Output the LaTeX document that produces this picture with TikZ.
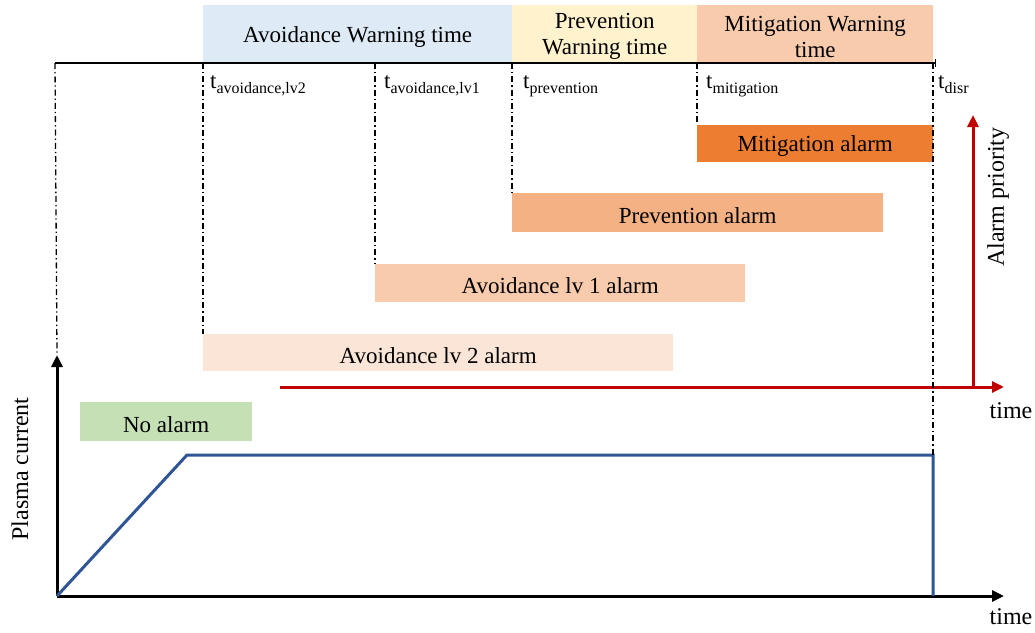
\documentclass[tikz,border=0pt]{standalone}
\usepackage{fontspec}
\setmainfont{Liberation Serif}
\usetikzlibrary{arrows.meta}
\definecolor{wblue}{HTML}{DEEBF7}
\definecolor{wyel}{HTML}{FFF2CC}
\definecolor{wpeach}{HTML}{F8CBAD}
\definecolor{malarm}{HTML}{ED7D31}
\definecolor{palarm}{HTML}{F4B183}
\definecolor{aonealarm}{HTML}{F8CBAD}
\definecolor{atwoalarm}{HTML}{FBE5D6}
\definecolor{nalarm}{HTML}{C5E0B4}
\definecolor{redax}{HTML}{C00000}
\definecolor{curveblue}{HTML}{2F5597}
\tikzset{
  bar/.style={inner sep=0pt, anchor=north west},
  bartxt/.style={inner sep=0pt, yshift=-2.5pt, font=\fontsize{23}{26}\selectfont, align=center},
  dd/.style={line width=1.3pt, dash pattern=on 6pt off 3pt on 1.3pt off 3pt},
  tlab/.style={anchor=base west, inner sep=0pt, font=\fontsize{23}{24}\selectfont},
  axlab/.style={inner sep=0pt, font=\fontsize{24}{26}\selectfont},
  blackax/.style={line width=3pt, -{Triangle[length=12pt,width=11pt]}},
  redaxis/.style={line width=3pt, redax, -{Triangle[length=12pt,width=11pt]}},
}
\newcommand{\tsub}[1]{t\raisebox{-5pt}{\fontsize{16}{16}\selectfont #1}}
\begin{document}
\begin{tikzpicture}[x=1pt,y=-1pt]
\useasboundingbox (0,0) rectangle (1035,632);
% warning time boxes
\node[bar, fill=wblue, minimum width=309pt, minimum height=58pt,
  label={[bartxt]center:Avoidance Warning time}] (avw) at (203,5) {};
\node[bar, fill=wyel, minimum width=185pt, minimum height=58pt,
  label={[bartxt]center:{Prevention\\Warning time}}] (pvw) at (512,5) {};
\node[bar, fill=wpeach, minimum width=236pt, minimum height=58pt,
  label={[bartxt]center:{Mitigation Warning\\time}}] (mtw) at (697,5) {};
% alarm bars
\node[bar, fill=malarm, minimum width=236pt, minimum height=37pt,
  label={[bartxt]center:Mitigation alarm}] (mal) at (697,125) {};
\node[bar, fill=palarm, minimum width=371pt, minimum height=39pt,
  label={[bartxt]center:Prevention alarm}] (pal) at (512,193) {};
\node[bar, fill=aonealarm, minimum width=370pt, minimum height=38pt,
  label={[bartxt]center:Avoidance lv 1 alarm}] (a1al) at (375,264) {};
\node[bar, fill=atwoalarm, minimum width=470pt, minimum height=37pt,
  label={[bartxt]center:Avoidance lv 2 alarm}] (a2al) at (203,334) {};
\node[bar, fill=nalarm, minimum width=172pt, minimum height=39pt,
  label={[bartxt]center:No alarm}] (nal) at (80,402) {};
% top time line
\coordinate (t0) at (55,63);
\coordinate (tl2) at (203,63);
\coordinate (tl1) at (375,63);
\coordinate (tp) at (512,63);
\coordinate (tm) at (697,63);
\coordinate (td) at (933,63);
\draw[line width=1.3pt] (t0) -- (935,63);
\draw[line width=1pt] (935,59) -- (935,67);
% axes
\coordinate (orig) at (57,596);
\coordinate (ytip) at (57,355);
\coordinate (xtip) at (1004,596);
\draw[blackax] (orig) -- (ytip);
\draw[blackax] (orig) -- (xtip);
\coordinate (rstart) at (280,387);
\coordinate (rcorner) at (973,387);
\coordinate (rxtip) at (1004,387);
\coordinate (rytip) at (973,115);
\draw[redaxis] (rstart) -- (rxtip);
\draw[redaxis] (rcorner) -- (rytip);
% plasma current
\coordinate (ramp) at (187,455);
\coordinate (plat) at (933,455);
\coordinate (drop) at (933,596);
\draw[curveblue, line width=3pt, line join=miter] (orig) -- (ramp) -- (plat) -- (drop);
% dash-dot markers
\draw[dd] (t0) -- (ytip);
\draw[dd] (tl2) -- (a2al.north west);
\draw[dd] (tl1) -- (a1al.north west);
\draw[dd] (tp) -- (pal.north west);
\draw[dd] (tm) -- (mal.north west);
\draw[dd] (td) -- (plat);
% time labels
\node[tlab] (lbl2) at (210,88) {\tsub{avoidance,lv2}};
\node[tlab] (lbl1) at (384,88) {\tsub{avoidance,lv1}};
\node[tlab] (lbp) at (523,88) {\tsub{prevention}};
\node[tlab] (lbm) at (706,88) {\tsub{mitigation}};
\node[tlab] (lbd) at (938,88) {\tsub{disr}};
% axis labels
\node[axlab, rotate=90] (prio) at (998,197) {Alarm priority};
\node[axlab] (rtime) at (1011,411) {time};
\node[axlab] (btime) at (1011,617) {time};
\node[axlab, rotate=90] (pc) at (20,469) {Plasma current};
\end{tikzpicture}
\end{document}
